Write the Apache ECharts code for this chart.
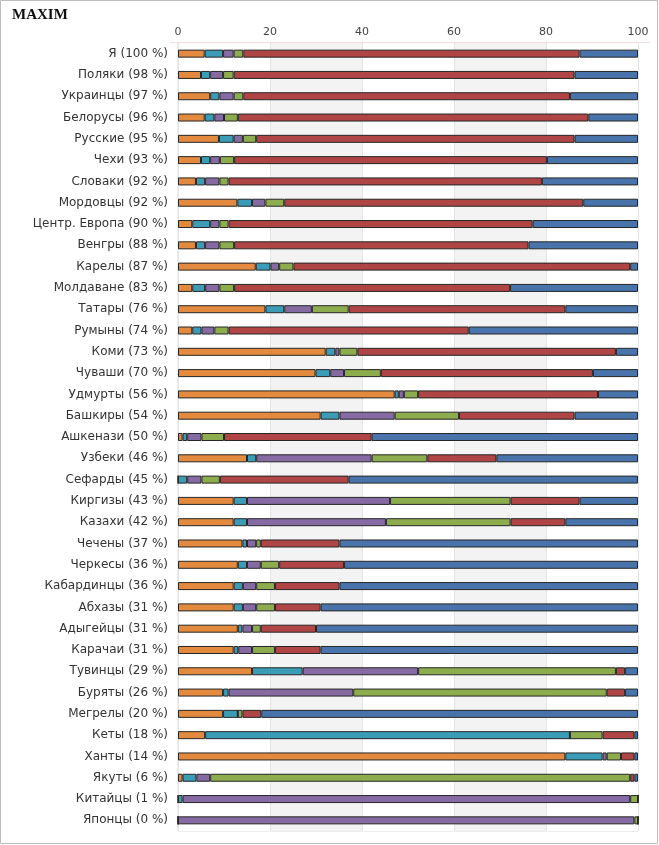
<!DOCTYPE html>
<html><head><meta charset="utf-8">
<script src="https://cdn.jsdelivr.net/npm/echarts@6/dist/echarts.min.js"></script>
<style>html,body{margin:0;padding:0;background:#fff}#c{width:659px;height:845px}</style>
</head><body><div id="c"></div>
<script>
var categories = ["Я (100 %)","Поляки (98 %)","Украинцы (97 %)","Белорусы (96 %)","Русские (95 %)","Чехи (93 %)","Словаки (92 %)","Мордовцы (92 %)","Центр. Европа (90 %)","Венгры (88 %)","Карелы (87 %)","Молдаване (83 %)","Татары (76 %)","Румыны (74 %)","Коми (73 %)","Чуваши (70 %)","Удмурты (56 %)","Башкиры (54 %)","Ашкенази (50 %)","Узбеки (46 %)","Сефарды (45 %)","Киргизы (43 %)","Казахи (42 %)","Чечены (37 %)","Черкесы (36 %)","Кабардинцы (36 %)","Абхазы (31 %)","Адыгейцы (31 %)","Карачаи (31 %)","Тувинцы (29 %)","Буряты (26 %)","Мегрелы (20 %)","Кеты (18 %)","Ханты (14 %)","Якуты (6 %)","Китайцы (1 %)","Японцы (0 %)"];
var orange = [5.8,5.0,7.0,5.8,8.9,5.0,3.9,12.9,3.1,3.9,16.9,3.1,19.0,3.1,32.1,29.9,47.1,31.0,1.0,15.0,0,12.1,12.1,14.0,13.0,12.1,12.1,13.0,12.1,16.1,9.8,9.8,5.9,84.2,1.0,0,0];
var teal   = [4.0,2.0,2.0,2.1,3.2,2.0,2.0,3.2,3.9,2.0,3.2,2.8,4.1,2.0,2.1,3.2,0.9,4.1,1.0,2.0,2.0,2.9,2.9,1.0,2.0,2.0,2.0,1.0,1.0,11.0,1.2,3.2,79.3,8.1,3.0,1.0,0];
var purple = [2.3,2.8,3.1,2.1,2.0,2.1,3.1,2.9,2.0,3.1,1.9,3.1,6.0,2.8,0.9,3.0,1.1,12.0,3.1,25.1,3.1,31.1,30.2,2.0,3.0,2.9,2.9,2.1,3.0,25.1,27.1,0,0,0.9,3.0,97.3,99.2];
var green  = [2.1,2.3,2.1,3.0,2.9,3.1,2.0,4.1,2.0,3.2,3.1,3.2,8.0,3.1,3.9,8.0,3.1,14.0,4.9,12.1,4.0,26.2,27.1,1.0,4.0,4.1,4.1,1.9,5.0,43.0,55.1,1.0,7.1,3.1,91.3,1.7,0.8];
var red    = [73.1,74.1,71.0,76.2,69.2,68.0,68.1,65.0,66.1,64.0,73.2,60.0,47.1,52.2,56.2,46.1,39.1,25.1,32.1,15.0,28.0,15.0,11.9,17.1,14.1,14.0,9.9,12.0,9.9,2.0,4.0,4.1,6.9,2.9,0.9,0,0];
var blue   = [12.7,13.8,14.8,10.8,13.8,19.8,20.9,11.9,22.9,23.8,1.7,27.8,15.8,36.8,4.8,9.8,8.7,13.8,57.9,30.8,62.9,12.7,15.8,64.9,63.9,64.9,69.0,70.0,69.0,2.8,2.8,81.9,0.8,0.8,0.8,0,0];
var xTicks = [0,20,40,60,80,100];

var seriesData = [orange, teal, purple, green, red, blue];
var colors = ['#e38a3e','#3b9cb8','#866aa3','#8dac4e','#b04545','#4874ab'];
var series = seriesData.map(function(d, i){
  return {
    type:'bar', stack:'all', barWidth:8, data:d,
    itemStyle:{color:colors[i], borderColor:'#262626', borderWidth:1},
    emphasis:{disabled:true}
  };
});

var chart = echarts.init(document.getElementById('c'));
chart.setOption({
  animation:false,
  grid:{left:178, right:21, top:43, bottom:14, show:true, borderColor:'#dcdcdc', borderWidth:1, backgroundColor:'transparent'},
  xAxis:{type:'value', position:'top', min:xTicks[0], max:xTicks[xTicks.length-1], interval:20,
    axisLine:{show:false}, axisTick:{show:false},
    axisLabel:{color:'#444', fontSize:11, fontFamily:'DejaVu Sans', margin:5},
    splitLine:{show:true, lineStyle:{color:'#e4e4e4', width:1}},
    splitArea:{show:true, areaStyle:{color:['#ffffff','#f3f3f3']}}
  },
  yAxis:{type:'category', inverse:true, data:categories,
    axisLine:{show:false}, axisTick:{show:false},
    axisLabel:{color:'#333', fontSize:12, fontFamily:'DejaVu Sans', margin:10}
  },
  series:series,
  graphic:[
    {type:'rect', shape:{x:0.5,y:0.5,width:657,height:843}, style:{fill:'none', stroke:'#bdbdbd', lineWidth:1}, silent:true},
    {type:'line', shape:{x1:170,y1:42.5,x2:650,y2:42.5}, style:{stroke:'#f4dede', lineWidth:1}, silent:true},
    {type:'text', left:12, top:8, style:{text:'MAXIM', font:'bold 15px "Liberation Serif"', fill:'#111'}}
  ]
});
</script></body></html>
